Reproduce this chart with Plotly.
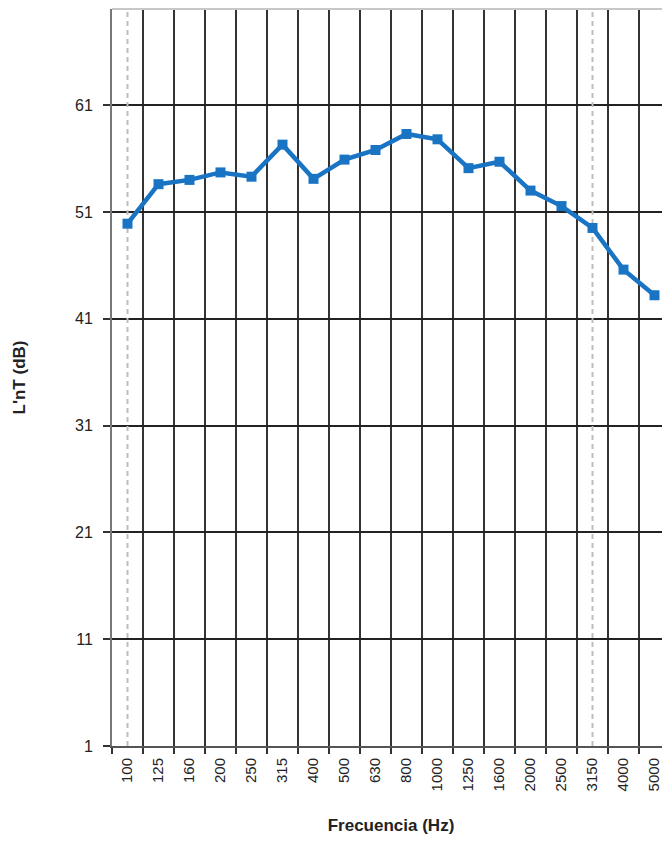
import plotly.graph_objects as go

freqs = ["100", "125", "160", "200", "250", "315", "400", "500", "630", "800",
         "1000", "1250", "1600", "2000", "2500", "3150", "4000", "5000"]
lnt = [49.9, 53.6, 54.0, 54.7, 54.3, 57.3, 54.1, 55.9, 56.8, 58.3,
       57.8, 55.1, 55.7, 53.0, 51.55, 49.5, 45.6, 43.2]
ref_freqs = ["100", "3150"]
y_ticks = [1, 11, 21, 31, 41, 51, 61]

fig = go.Figure()

# light dashed reference lines at the evaluation range limits
for f in ref_freqs:
    fig.add_trace(go.Scatter(
        x=[f, f], y=[1, 70], mode="lines",
        line=dict(color="#bdbdbd", width=2, dash="5px,4px"),
        hoverinfo="skip", showlegend=False,
    ))

fig.add_trace(go.Scatter(
    x=freqs, y=lnt, mode="lines+markers",
    line=dict(color="#1a74c4", width=4.5),
    marker=dict(symbol="square", size=10, color="#1a74c4"),
    showlegend=False,
))

fig.add_shape(type="line", xref="paper", yref="paper", x0=0, x1=1, y0=1, y1=1,
              line=dict(color="#c8c8c8", width=2))

font = "Liberation Sans, Arial, sans-serif"
fig.update_layout(
    width=662, height=827,
    margin=dict(l=104, r=0, t=1, b=89),
    paper_bgcolor="white", plot_bgcolor="white",
    font=dict(family=font, color="#222222", size=12),
    xaxis=dict(
        type="category", categoryorder="array", categoryarray=freqs,
        range=[-0.5, 17.5], tickson="boundaries",
        showgrid=True, gridcolor="#333333", gridwidth=2,
        ticks="outside", ticklen=6, tickcolor="#333333", tickwidth=2,
        tickangle=-90, tickfont=dict(size=15), ticklabelstandoff=4,
        showline=True, linecolor="#555555", linewidth=2,
        title=dict(text="<b>Frecuencia (Hz)</b>", font=dict(size=17), standoff=33),
        zeroline=False,
    ),
    yaxis=dict(
        range=[1, 70], tickvals=y_ticks, ticktext=[str(v) for v in y_ticks],
        showgrid=True, gridcolor="#222222", gridwidth=1.5,
        ticks="outside", ticklen=7, tickcolor="#333333", tickwidth=1.5,
        tickfont=dict(size=16), ticklabelstandoff=7,
        showline=True, linecolor="#777777", linewidth=2,
        title=dict(text="<b>L'nT (dB)</b>", font=dict(size=17), standoff=45),
        zeroline=False,
    ),
)

fig.write_html("out.html")
